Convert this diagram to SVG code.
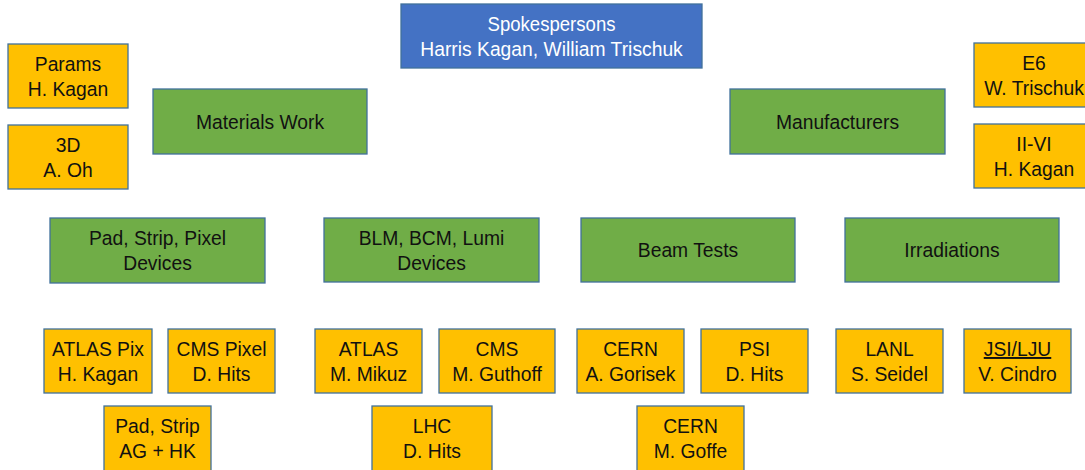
<svg xmlns="http://www.w3.org/2000/svg" width="1085" height="470" viewBox="0 0 1085 470">
<style>
rect{stroke:#41719C;stroke-width:1.3}
.o{fill:#FFC000}
.g{fill:#70AD47}
.b{fill:#4472C4}
text{font-family:"Liberation Sans",Arial,sans-serif;font-size:19.3px;text-anchor:middle;fill:#111}
.w{fill:#fff}
</style>
<rect width="1085" height="470" fill="#fff" style="stroke:none"/>
<g id="connectors"></g>
<g id="spokespersons"><rect class="b" x="401" y="4" width="301" height="64"/><text class="w" x="551.5" y="31" textLength="128" lengthAdjust="spacingAndGlyphs">Spokespersons</text><text class="w" x="551.5" y="56">Harris Kagan, William Trischuk</text></g>
<g id="params"><rect class="o" x="8" y="44" width="120" height="64"/><text x="68" y="71">Params</text><text x="68" y="96">H. Kagan</text></g>
<g id="3d"><rect class="o" x="8" y="125" width="120" height="64"/><text x="68" y="152">3D</text><text x="68" y="177">A. Oh</text></g>
<g id="materials"><rect class="g" x="153" y="89" width="214" height="65"/><text x="260" y="129">Materials Work</text></g>
<g id="manufacturers"><rect class="g" x="730" y="89" width="215" height="65"/><text x="837.5" y="129">Manufacturers</text></g>
<g id="e6"><rect class="o" x="974" y="43" width="120" height="64"/><text x="1034" y="70">E6</text><text x="1034" y="95">W. Trischuk</text></g>
<g id="ii-vi"><rect class="o" x="974" y="124" width="120" height="64"/><text x="1034" y="151">II-VI</text><text x="1034" y="176">H. Kagan</text></g>
<g id="devices"><rect class="g" x="50" y="218" width="215" height="65"/><text x="157.5" y="245">Pad, Strip, Pixel</text><text x="157.5" y="270">Devices</text></g>
<g id="blm"><rect class="g" x="324" y="218" width="215" height="64"/><text x="431.5" y="245">BLM, BCM, Lumi</text><text x="431.5" y="270">Devices</text></g>
<g id="beamtests"><rect class="g" x="581" y="218" width="214" height="64"/><text x="688" y="257">Beam Tests</text></g>
<g id="irradiations"><rect class="g" x="845" y="218" width="214" height="64"/><text x="952" y="257">Irradiations</text></g>
<g id="atlaspix"><rect class="o" x="44" y="329" width="108" height="64"/><text x="98" y="356">ATLAS Pix</text><text x="98" y="381">H. Kagan</text></g>
<g id="cmspixel"><rect class="o" x="168" y="329" width="107" height="64"/><text x="221.5" y="356">CMS Pixel</text><text x="221.5" y="381">D. Hits</text></g>
<g id="padstrip"><rect class="o" x="104" y="406" width="107" height="66"/><text x="157.5" y="433">Pad, Strip</text><text x="157.5" y="458">AG + HK</text></g>
<g id="atlas"><rect class="o" x="315" y="329" width="107" height="64"/><text x="368.5" y="356">ATLAS</text><text x="368.5" y="381">M. Mikuz</text></g>
<g id="cms"><rect class="o" x="439" y="329" width="116" height="64"/><text x="497" y="356">CMS</text><text x="497" y="381">M. Guthoff</text></g>
<g id="lhc"><rect class="o" x="372" y="406" width="120" height="66"/><text x="432" y="433">LHC</text><text x="432" y="458">D. Hits</text></g>
<g id="cern1"><rect class="o" x="577" y="329" width="107" height="64"/><text x="630.5" y="356">CERN</text><text x="630.5" y="381">A. Gorisek</text></g>
<g id="psi"><rect class="o" x="701" y="329" width="107" height="64"/><text x="754.5" y="356">PSI</text><text x="754.5" y="381">D. Hits</text></g>
<g id="cern2"><rect class="o" x="637" y="406" width="107" height="66"/><text x="690.5" y="433">CERN</text><text x="690.5" y="458">M. Goffe</text></g>
<g id="lanl"><rect class="o" x="836" y="329" width="107" height="64"/><text x="889.5" y="356">LANL</text><text x="889.5" y="381">S. Seidel</text></g>
<g id="jsi"><rect class="o" x="964" y="329" width="107" height="64"/><text x="1017.5" y="356" text-decoration="underline">JSI/LJU</text><text x="1017.5" y="381">V. Cindro</text></g>
</svg>
